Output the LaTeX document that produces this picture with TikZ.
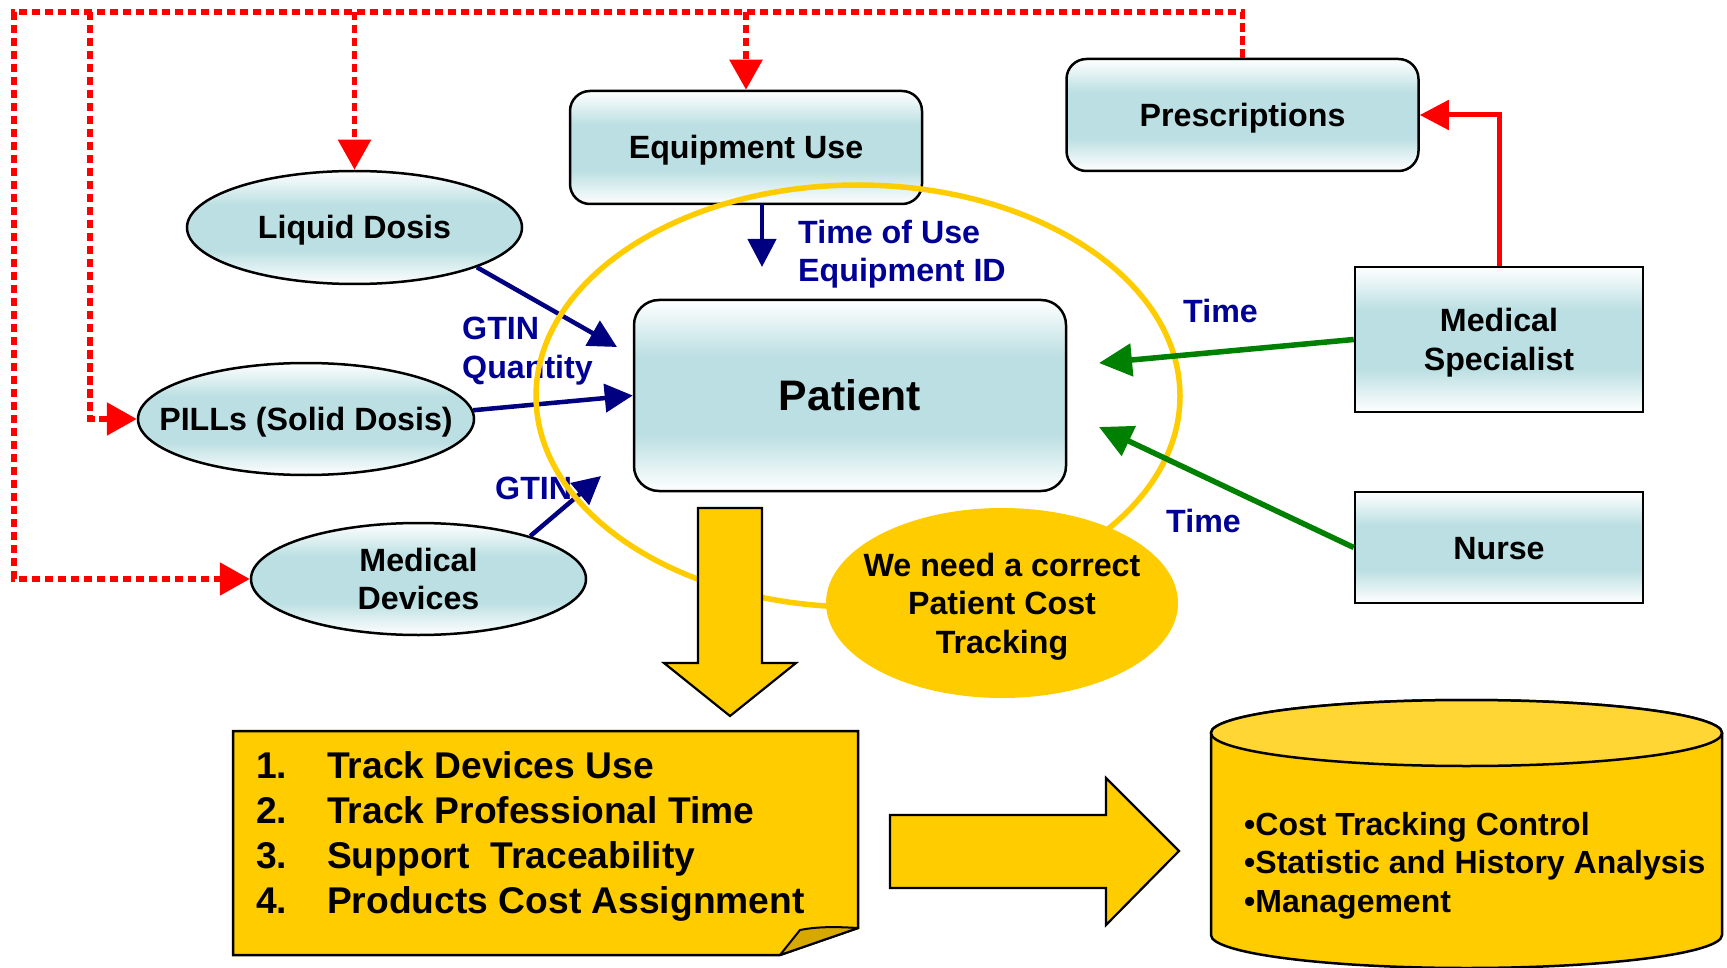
\documentclass[tikz,border=0pt]{standalone}
\usepackage{fontspec}
\setmainfont{Liberation Sans}
\usetikzlibrary{arrows.meta,shapes.geometric,calc}
\definecolor{tealc}{RGB}{187,223,226}
\definecolor{gold}{RGB}{255,204,0}
\definecolor{goldtop}{RGB}{255,214,51}
\definecolor{golddark}{RGB}{214,168,0}
\definecolor{navytext}{RGB}{0,0,150}
\definecolor{navyarrow}{RGB}{0,0,128}
\definecolor{darkgreen}{RGB}{0,128,0}
\pgfdeclareverticalshading{nodegrad}{100bp}{color(0bp)=(white); color(25bp)=(white); color(40bp)=(tealc); color(60bp)=(tealc); color(75bp)=(white); color(100bp)=(white)}
\newcommand\fsnorm{\fontsize{32.2}{38.5}\selectfont\bfseries}
\newcommand\tstrut{\rule[-7pt]{0pt}{37pt}}
\newcommand\pstrut{\rule[-9.4pt]{0pt}{49.4pt}}
\begin{document}
\begin{tikzpicture}[x=1pt,y=-1pt,
  reddot/.style={draw=red, line width=5.5pt, dash pattern=on 8.5pt off 4.5pt},
  redtip/.style={-{Triangle[width=32pt,length=30pt]}},
  redline/.style={draw=red, line width=5pt, -{Triangle[width=29pt,length=29pt]}},
  bluearrow/.style={draw=navyarrow, line width=4.5pt, -{Triangle[width=28pt,length=28pt]}},
  greenarrow/.style={draw=darkgreen, line width=5.5pt, -{Triangle[width=32pt,length=33pt]}},
  rbox/.style={draw=black, line width=2.5pt, shading=nodegrad, inner sep=0pt, font=\fsnorm, align=center},
  ebox/.style={ellipse, draw=black, line width=2.5pt, shading=nodegrad, inner xsep=-40pt, inner ysep=0pt, font=\fsnorm, align=center},
  bluelabel/.style={text=navytext, font=\fsnorm, inner sep=0pt, anchor=base west, align=left},
  goldshape/.style={fill=gold, draw=black, line width=2.2pt, line join=miter}
]
\useasboundingbox (0,0) rectangle (1727,968);

% nodes
\node[rbox, rounded corners=20pt, minimum width=352pt, minimum height=113pt] (equip) at (746,147.5) {\tstrut Equipment Use};
\node[rbox, rounded corners=20pt, minimum width=352pt, minimum height=112pt] (presc) at (1242.5,115) {\tstrut Prescriptions};
\node[rbox, rounded corners=25pt, minimum width=432pt, minimum height=191pt, font=\fontsize{42.7}{50}\selectfont\bfseries] (patient) at (850,395.5) {\pstrut Patient};
\node[rbox, minimum width=288pt, minimum height=145pt] (spec) at (1499,339.5) {\tstrut Medical\\Specialist\tstrut};
\node[rbox, minimum width=288pt, minimum height=111pt] (nurse) at (1499,547.5) {\tstrut Nurse};
\node[ebox, minimum width=335pt, minimum height=113pt] (liquid) at (354.5,227.5) {\tstrut Liquid Dosis};
\node[ebox, minimum width=336pt, minimum height=112pt] (pills) at (306,419) {\tstrut PILLs (Solid Dosis)};
\node[ebox, minimum width=335pt, minimum height=112pt] (devices) at (418.5,579) {\tstrut Medical\\Devices\tstrut};

% red dotted feedback lines
\coordinate (c1) at (1242.5,12);
\coordinate (c2) at (14,12);
\coordinate (b1) at (90,12);
\draw[reddot, redtip] (presc.north) -- (c1) -- (c2) |- (devices.west);
\draw[reddot, redtip] (b1) |- (pills.west);
\draw[reddot, redtip] (liquid.north |- c2) -- (liquid.north);
\draw[reddot, redtip] (equip.north |- c2) -- (equip.north);

% red solid
\draw[redline] (spec.north) |- (presc.east);

% blue arrows and labels
\coordinate (eqstart) at (762,204);
\coordinate (eqtip) at (762,267);
\coordinate (liqtip) at (617,347);
\coordinate (devtip) at (601,476);
\draw[bluearrow] (eqstart) -- (eqtip);
\draw[bluearrow] (liquid.-18) -- (liqtip);
\draw[bluearrow] (pills.3) -- (patient.west);
\draw[bluearrow] (devices.21) -- (devtip);
\node[bluelabel] (lbl1) at (798,282) {Time of Use\\Equipment ID};
\node[bluelabel] (lbl2) at (462,378) {GTIN\\Quantity};
\node[bluelabel] (lbl3) at (495,499) {GTIN};

% yellow circle
\draw[gold, line width=5.5pt] (858,396) ellipse [x radius=322pt, y radius=211pt];

% green arrows
\coordinate (gt1) at (1099,363);
\coordinate (gt2) at (1099,427);
\draw[greenarrow] (spec.west) -- (gt1);
\draw[greenarrow] (nurse.west) -- (gt2);
\node[bluelabel] (lbl4) at (1183,323) {Time};
\node[bluelabel] (lbl5) at (1166,532) {Time};

% down block arrow
\draw[goldshape] (698,508) -- (762,508) -- (762,663) -- (796,663) -- (730,716) -- (664,663) -- (698,663) -- cycle;

% we need ellipse
\node[ellipse, fill=gold, minimum width=352pt, minimum height=190pt, inner xsep=-40pt, inner ysep=0pt, font=\fsnorm, align=center] (need) at (1002,603) {\tstrut We need a correct\\Patient Cost\\Tracking\tstrut};

% list box with folded corner
\draw[goldshape, line width=2.5pt] (233,731) -- (858,731) -- (858,928) -- (780,955) -- (233,955) -- cycle;
\draw[fill=golddark, draw=black, line width=2pt, line join=round] (780,955) -- (800,930) .. controls (820,926) and (840,927) .. (858,928) -- cycle;
\node[anchor=base west, inner sep=0pt, align=left, font=\fontsize{37.2}{44.7}\selectfont\bfseries] (list) at (256,913)
  {\makebox[71pt][l]{1.}Track Devices Use\\\makebox[71pt][l]{2.}Track Professional Time\\\makebox[71pt][l]{3.}Support\ \ Traceability\\\makebox[71pt][l]{4.}Products Cost Assignment};

% right block arrow
\draw[goldshape] (890,815) -- (1106,815) -- (1106,778) -- (1179,851) -- (1106,925) -- (1106,888) -- (890,888) -- cycle;

% cylinder
\draw[fill=gold, draw=black, line width=2.5pt] (1211,733) -- (1211,935) arc[start angle=180, end angle=360, x radius=255.5pt, y radius=33pt] -- (1722,733) arc[start angle=0, end angle=180, x radius=255.5pt, y radius=33pt] -- cycle;
\draw[fill=goldtop, draw=black, line width=2.5pt] (1466.5,733) ellipse [x radius=255.5pt, y radius=33pt];
\node[anchor=base west, inner sep=0pt, align=left, font=\fontsize{32}{38.5}\selectfont\bfseries] (dbtext) at (1244,912)
  {•Cost Tracking Control\\•Statistic and History Analysis\\•Management};
\end{tikzpicture}
\end{document}
